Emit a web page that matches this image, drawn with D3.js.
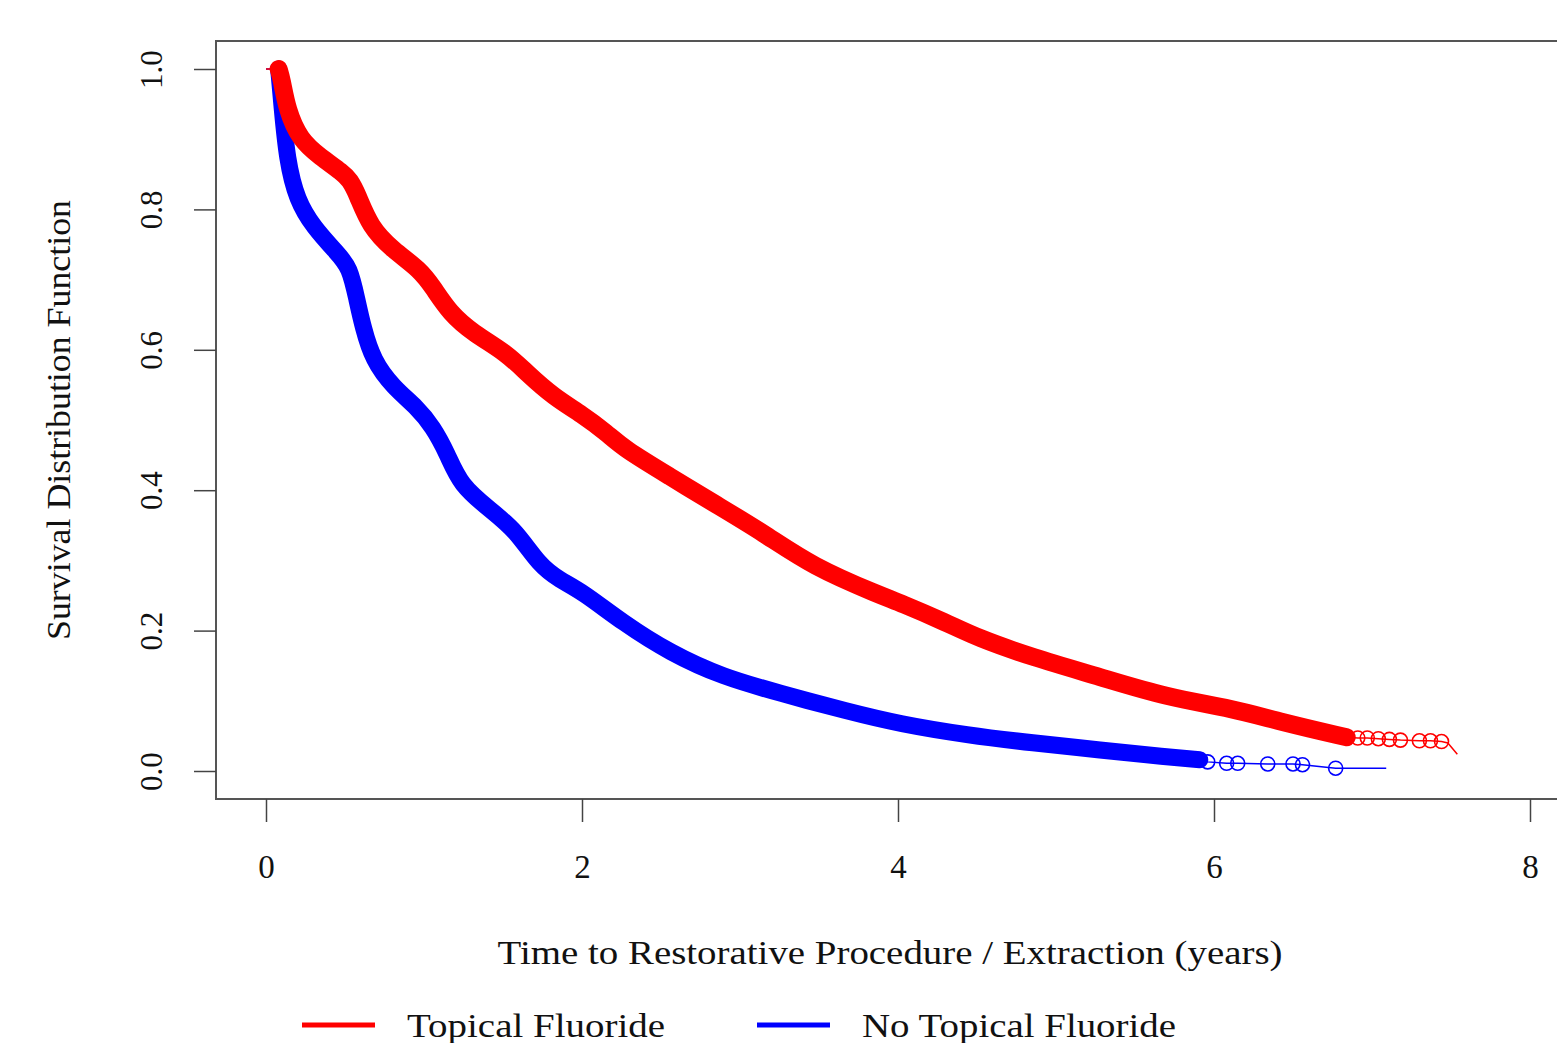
<!DOCTYPE html>
<html>
<head>
<meta charset="utf-8">
<script src="https://cdn.jsdelivr.net/npm/d3@7"></script>
<style>
  html, body { margin: 0; padding: 0; background: #fff; }
  svg { display: block; }
  text { font-family: "Liberation Serif", "DejaVu Serif", serif; fill: #111; }
</style>
</head>
<body>
<svg id="chart" width="1557" height="1043"></svg>
<script>
// ---------- data ----------
const xTicks = [0, 2, 4, 6, 8];
const yTicks = [0.0, 0.2, 0.4, 0.6, 0.8, 1.0];
const yTickLabels = ["0.0", "0.2", "0.4", "0.6", "0.8", "1.0"];
const seriesNames = ["Topical Fluoride", "No Topical Fluoride"];

// Topical Fluoride (red) - dense part of the KM curve
const redTimes = [0, 0.08, 0.10, 0.133, 0.215, 0.342, 0.487, 0.53, 0.576, 0.658, 0.804, 0.975, 1.057, 1.165, 1.31, 1.525, 1.65, 1.82, 2.0, 2.16, 2.26, 2.56, 2.83, 3.15, 3.46, 3.89, 4.01, 4.31, 4.50, 4.85, 5.28, 5.70, 6.12, 6.42, 6.84];
const redSurv  = [1.0, 1.0, 0.985, 0.942, 0.899, 0.875, 0.852, 0.842, 0.823, 0.775, 0.742, 0.714, 0.689, 0.652, 0.624, 0.595, 0.567, 0.533, 0.508, 0.481, 0.460, 0.419, 0.382, 0.339, 0.291, 0.250, 0.240, 0.211, 0.190, 0.162, 0.134, 0.105, 0.089, 0.070, 0.048];
// red tail (censored points, sparse)
const redTailTimes = [6.91, 6.97, 7.04, 7.11, 7.18, 7.30, 7.37, 7.44];
const redTailSurv  = [0.047, 0.047, 0.046, 0.045, 0.044, 0.043, 0.043, 0.042];
const redEndTimes = [7.48, 7.54];
const redEndSurv  = [0.040, 0.024];

// No Topical Fluoride (blue)
const blueTimes = [0, 0.08, 0.10, 0.133, 0.196, 0.30, 0.45, 0.53, 0.576, 0.614, 0.677, 0.804, 0.956, 1.057, 1.146, 1.23, 1.42, 1.58, 1.73, 1.86, 2.0, 2.26, 2.56, 2.89, 3.25, 3.68, 4.01, 4.44, 4.85, 5.28, 5.70, 5.91];
const blueSurv  = [1.0, 1.0, 0.95, 0.87, 0.813, 0.775, 0.738, 0.718, 0.671, 0.632, 0.585, 0.547, 0.518, 0.490, 0.453, 0.407, 0.372, 0.343, 0.293, 0.272, 0.256, 0.211, 0.168, 0.134, 0.111, 0.085, 0.067, 0.051, 0.040, 0.030, 0.020, 0.016];
const blueTailTimes = [5.96, 6.08, 6.15, 6.34, 6.50, 6.56, 6.77];
const blueTailSurv  = [0.013, 0.011, 0.011, 0.010, 0.010, 0.009, 0.004];
const blueEndTimes = [7.09];
const blueEndSurv  = [0.004];

const colors = ["#ff0000", "#0000ff"];

// ---------- layout ----------
const svg = d3.select("#chart");
const x = d3.scaleLinear().domain([0, 8]).range([266, 1530]);
const y = d3.scaleLinear().domain([0, 1]).range([771, 69]);
const box = { left: 216, top: 41, right: 1600, bottom: 799 };

const zip = (a, b) => a.map((v, i) => [v, b[i]]);

// frame
svg.append("rect")
  .attr("x", box.left).attr("y", box.top)
  .attr("width", box.right - box.left).attr("height", box.bottom - box.top)
  .attr("fill", "none").attr("stroke", "#555").attr("stroke-width", 2);

// x axis
const xAxis = d3.axisBottom(x).tickValues(xTicks).tickSize(23).tickFormat(d3.format("d"));
const gx = svg.append("g").attr("transform", `translate(0,${box.bottom})`).call(xAxis);
gx.select(".domain").remove();
gx.selectAll(".tick line").attr("stroke", "#444").attr("stroke-width", 1.5);
gx.selectAll(".tick text")
  .attr("y", 79).attr("dy", 0)
  .style("font-family", "'Liberation Serif', serif")
  .style("font-size", "33px").attr("fill", "#111");

// y axis
const yAxis = d3.axisLeft(y).tickValues(yTicks).tickSize(22)
  .tickFormat((d, i) => yTickLabels[i]);
const gy = svg.append("g").attr("transform", `translate(${box.left},0)`).call(yAxis);
gy.select(".domain").remove();
gy.selectAll(".tick line").attr("stroke", "#444").attr("stroke-width", 1.5);
gy.selectAll(".tick text")
  .attr("x", 0).attr("dy", 0)
  .attr("text-anchor", "middle")
  .attr("transform", "translate(-54,0) rotate(-90)")
  .style("font-family", "'Liberation Serif', serif")
  .style("font-size", "31px").attr("fill", "#111");

// axis titles
svg.append("text")
  .attr("x", 890).attr("y", 964)
  .attr("text-anchor", "middle")
  .attr("textLength", 785).attr("lengthAdjust", "spacingAndGlyphs")
  .style("font-size", "33px")
  .text("Time to Restorative Procedure / Extraction (years)");

svg.append("text")
  .attr("transform", "translate(70,420) rotate(-90)")
  .attr("text-anchor", "middle")
  .attr("textLength", 440).attr("lengthAdjust", "spacingAndGlyphs")
  .style("font-size", "33px")
  .text("Survival Distribution Function");

// ---------- curves ----------
const thin = d3.line().x(d => x(d[0])).y(d => y(d[1]));
const band = d3.line().x(d => x(d[0])).y(d => y(d[1])).curve(d3.curveBasis);

const series = [
  { dense: zip(redTimes, redSurv), tail: zip(redTailTimes, redTailSurv), end: zip(redEndTimes, redEndSurv), color: colors[0], w: 18 },
  { dense: zip(blueTimes, blueSurv), tail: zip(blueTailTimes, blueTailSurv), end: zip(blueEndTimes, blueEndSurv), color: colors[1], w: 17 }
];

// draw blue first, red on top
[series[1], series[0]].forEach(s => {
  const all = s.dense.concat(s.tail, s.end);
  svg.append("path").datum(all)
    .attr("d", thin).attr("fill", "none")
    .attr("stroke", s.color).attr("stroke-width", 1.5);
  svg.append("path").datum(s.dense.slice(1))
    .attr("d", band).attr("fill", "none")
    .attr("stroke", s.color).attr("stroke-width", s.w)
    .attr("stroke-linecap", "round").attr("stroke-linejoin", "round");
  svg.append("g").selectAll("circle").data(s.tail).join("circle")
    .attr("cx", d => x(d[0])).attr("cy", d => y(d[1])).attr("r", 7)
    .attr("fill", "none").attr("stroke", s.color).attr("stroke-width", 1.6);
});

// ---------- legend ----------
const legendX = [302, 757];
const legendW = [258, 314];
const legendY = 1025;
seriesNames.forEach((name, i) => {
  svg.append("line")
    .attr("x1", legendX[i]).attr("x2", legendX[i] + 73)
    .attr("y1", legendY).attr("y2", legendY)
    .attr("stroke", colors[i]).attr("stroke-width", 5);
  svg.append("text")
    .attr("x", legendX[i] + 105).attr("y", legendY + 12)
    .attr("textLength", legendW[i]).attr("lengthAdjust", "spacingAndGlyphs")
    .style("font-size", "34px")
    .text(name);
});
</script>
</body>
</html>
